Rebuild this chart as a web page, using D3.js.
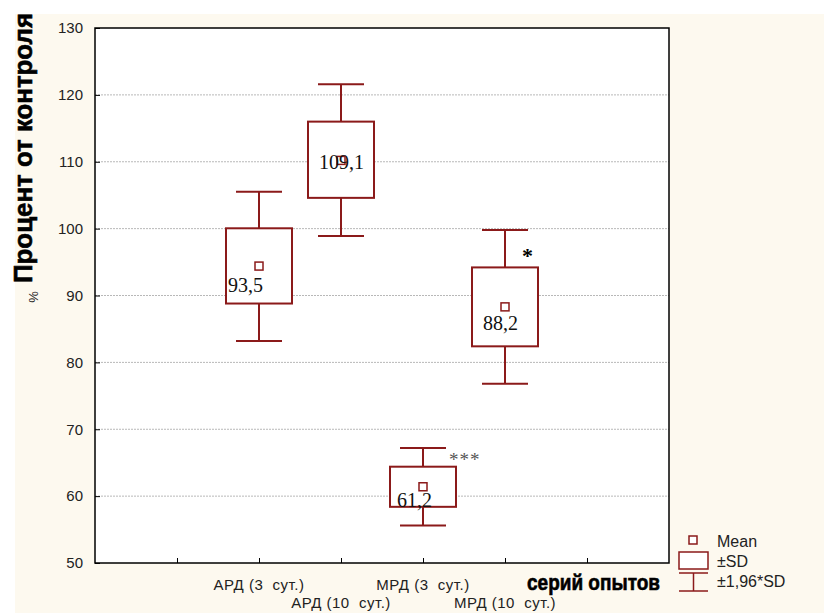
<!DOCTYPE html>
<html>
<head>
<meta charset="utf-8">
<script src="https://cdn.jsdelivr.net/npm/d3@7"></script>
<style>
  body { margin: 0; background: #fff; }
  svg text { font-family: "Liberation Sans", Arial, sans-serif; }
</style>
</head>
<body>
<svg id="chart" width="824" height="613"></svg>
<script>
// ---- data ----
let categories = ['АРД (3  сут.)', 'АРД (10  сут.)', 'МРД (3  сут.)', 'МРД (10  сут.)'];
let means = [94.4, 110.2, 61.4, 88.3];
let sdLow = [88.8, 104.6, 58.4, 82.4];
let sdHigh = [100.05, 116.0, 64.4, 94.2];
let ciLow = [83.2, 98.9, 55.6, 76.8];
let ciHigh = [105.5, 121.6, 67.2, 99.8];
let valueLabels = ['93,5', '109,1', '61,2', '88,2'];
let stars = ['', '', '***', '*'];
let yTicks = [50, 60, 70, 80, 90, 100, 110, 120, 130];

// layout tweaks for the annotations (pixels, relative to box centre / mean)
let labelOffset = [[-31, 26], [-22, 9], [-26, 20], [-22, 23]];
let starOffset = [[0, 0], [0, 0], [26, 2], [17, 17]];

let red = '#8b1a1a';
let width = 824, height = 613;
let plotLeft = 95, plotRight = 669, plotTop = 28, plotBottom = 563;

let svg = d3.select('#chart');

svg.append('rect')
  .attr('x', 15).attr('y', 14)
  .attr('width', width - 15).attr('height', height - 14)
  .attr('fill', '#fdf9ef');

svg.append('rect')
  .attr('x', plotLeft).attr('y', plotTop)
  .attr('width', plotRight - plotLeft).attr('height', plotBottom - plotTop)
  .attr('fill', '#fff');

let x = d3.scaleLinear().domain([0, 7]).range([plotLeft, plotRight]);
let y = d3.scaleLinear().domain([50, 130]).range([plotBottom, plotTop]);

// gridlines
svg.append('g')
  .selectAll('line')
  .data(yTicks.slice(1, -1))
  .enter()
  .append('line')
  .attr('x1', plotLeft).attr('x2', plotRight)
  .attr('y1', d => y(d)).attr('y2', d => y(d))
  .attr('stroke', '#b8b8b8')
  .attr('stroke-width', 1)
  .attr('stroke-dasharray', '2,1');

// axes
let yAxis = svg.append('g')
  .attr('transform', 'translate(' + plotLeft + ',0)')
  .call(d3.axisLeft(y).tickValues(yTicks).tickSize(-5).tickPadding(12).tickSizeOuter(0));
yAxis.select('.domain').remove();
yAxis.selectAll('text').attr('font-size', 15).attr('fill', '#222');
yAxis.selectAll('line').attr('stroke', '#000');

let xAxis = svg.append('g')
  .attr('transform', 'translate(0,' + plotBottom + ')')
  .call(d3.axisBottom(x).tickValues([1, 2, 3, 4, 5, 6]).tickSize(-5).tickFormat('').tickSizeOuter(0));
xAxis.select('.domain').remove();
xAxis.selectAll('line').attr('stroke', '#000');

// frame
svg.append('rect')
  .attr('x', plotLeft).attr('y', plotTop)
  .attr('width', plotRight - plotLeft).attr('height', plotBottom - plotTop)
  .attr('fill', 'none')
  .attr('stroke', '#000')
  .attr('stroke-width', 1.5);

// category labels, staggered
svg.append('g')
  .selectAll('text')
  .data(categories)
  .enter()
  .append('text')
  .attr('x', (d, i) => x(i + 2))
  .attr('y', (d, i) => i % 2 == 0 ? 590 : 608)
  .attr('text-anchor', 'middle')
  .attr('font-size', 15)
  .attr('letter-spacing', 0.5)
  .attr('fill', '#222')
  .style('white-space', 'pre')
  .text(d => d);

svg.append('text')
  .attr('x', 527).attr('y', 590)
  .attr('font-size', 22)
  .attr('font-weight', 'bold')
  .attr('stroke', '#000')
  .attr('stroke-width', 0.6)
  .attr('textLength', 133)
  .attr('lengthAdjust', 'spacingAndGlyphs')
  .text('серий опытов');

// y title
svg.append('text')
  .attr('transform', 'translate(32,148) rotate(-90)')
  .attr('text-anchor', 'middle')
  .attr('font-size', 25)
  .attr('font-weight', 'bold')
  .attr('stroke', '#000')
  .attr('stroke-width', 0.6)
  .attr('textLength', 270)
  .attr('lengthAdjust', 'spacingAndGlyphs')
  .text('Процент от контроля');

svg.append('text')
  .attr('transform', 'translate(38,297) rotate(-90)')
  .attr('text-anchor', 'middle')
  .attr('font-size', 13)
  .attr('fill', '#222')
  .text('%');

// boxes
let boxW = 66, capW = 46;
let boxes = svg.append('g')
  .selectAll('g')
  .data(categories)
  .enter()
  .append('g');

boxes.append('line')
  .attr('x1', (d, i) => x(i + 2)).attr('x2', (d, i) => x(i + 2))
  .attr('y1', (d, i) => y(ciHigh[i])).attr('y2', (d, i) => y(ciLow[i]))
  .attr('stroke', red).attr('stroke-width', 2);

boxes.selectAll('.cap')
  .data((d, i) => [[i, ciHigh[i]], [i, ciLow[i]]])
  .enter()
  .append('line')
  .attr('class', 'cap')
  .attr('x1', d => x(d[0] + 2) - capW / 2).attr('x2', d => x(d[0] + 2) + capW / 2)
  .attr('y1', d => y(d[1])).attr('y2', d => y(d[1]))
  .attr('stroke', red).attr('stroke-width', 2);

boxes.append('rect')
  .attr('x', (d, i) => x(i + 2) - boxW / 2)
  .attr('y', (d, i) => y(sdHigh[i]))
  .attr('width', boxW)
  .attr('height', (d, i) => y(sdLow[i]) - y(sdHigh[i]))
  .attr('fill', '#fff')
  .attr('stroke', red).attr('stroke-width', 2);

boxes.append('rect')
  .attr('x', (d, i) => x(i + 2) - 4)
  .attr('y', (d, i) => y(means[i]) - 4)
  .attr('width', 8).attr('height', 8)
  .attr('fill', '#fff')
  .attr('stroke', red).attr('stroke-width', 1.5);

boxes.append('text')
  .attr('x', (d, i) => x(i + 2) + labelOffset[i][0])
  .attr('y', (d, i) => y(means[i]) + labelOffset[i][1])
  .attr('font-size', 20)
  .style('font-family', '"Liberation Serif", "Times New Roman", serif')
  .attr('fill', '#111')
  .text((d, i) => valueLabels[i]);

boxes.append('text')
  .attr('x', (d, i) => x(i + 2) + starOffset[i][0])
  .attr('y', (d, i) => y(ciHigh[i]) + starOffset[i][1] + 16)
  .attr('font-size', (d, i) => stars[i] == '*' ? 22 : 19)
  .attr('font-weight', (d, i) => stars[i] == '*' ? 'bold' : 'normal')
  .attr('letter-spacing', 1)
  .style('font-family', '"Liberation Serif", "Times New Roman", serif')
  .attr('fill', (d, i) => stars[i] == '*' ? '#000' : '#555')
  .text((d, i) => stars[i]);

// legend
let lg = svg.append('g');
lg.append('rect')
  .attr('x', 689).attr('y', 536).attr('width', 8).attr('height', 8)
  .attr('fill', '#fff').attr('stroke', red).attr('stroke-width', 1.5);
lg.append('rect')
  .attr('x', 679).attr('y', 552).attr('width', 29).attr('height', 17)
  .attr('fill', '#fff').attr('stroke', red).attr('stroke-width', 1.5);
lg.append('line')
  .attr('x1', 679).attr('x2', 708).attr('y1', 573).attr('y2', 573)
  .attr('stroke', red).attr('stroke-width', 1.5);
lg.append('line')
  .attr('x1', 679).attr('x2', 708).attr('y1', 591).attr('y2', 591)
  .attr('stroke', red).attr('stroke-width', 1.5);
lg.append('line')
  .attr('x1', 693.5).attr('x2', 693.5).attr('y1', 573).attr('y2', 591)
  .attr('stroke', red).attr('stroke-width', 1.5);

lg.selectAll('text')
  .data(['Mean', '±SD', '±1,96*SD'])
  .enter()
  .append('text')
  .attr('x', 717)
  .attr('y', (d, i) => 547 + i * 20)
  .attr('font-size', 16)
  .attr('fill', '#222')
  .text(d => d);
</script>
</body>
</html>
